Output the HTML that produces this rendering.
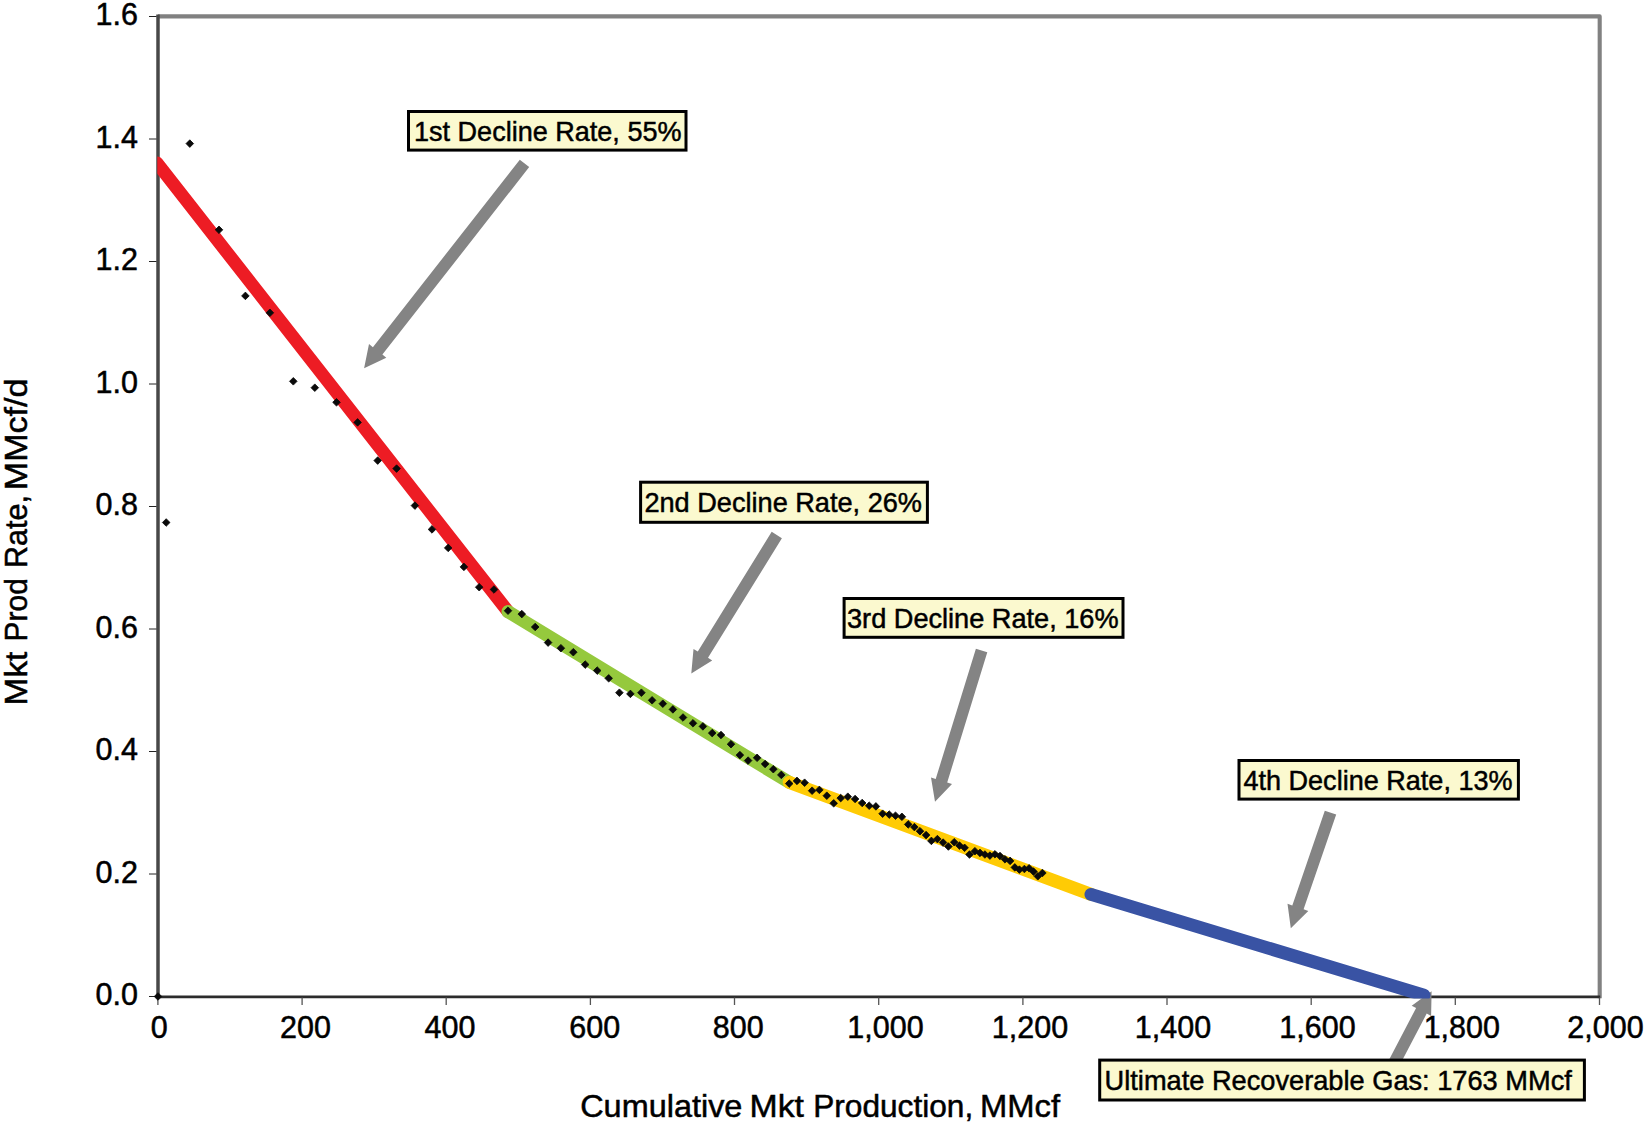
<!DOCTYPE html>
<html><head><meta charset="utf-8"><title>Decline Rate Chart</title>
<style>html,body{margin:0;padding:0;background:#fff}svg{display:block}text{font-family:"Liberation Sans",sans-serif;fill:#000;stroke:#000;stroke-width:0.5px}</style></head><body>
<svg width="1645" height="1125" viewBox="0 0 1645 1125">
<rect width="1645" height="1125" fill="#fff"/>
<defs><clipPath id="plot"><rect x="157.3" y="16" width="1443" height="982.4"/></clipPath></defs>
<path d="M158 16.4 H1599.7 V998.2" fill="none" stroke="#818181" stroke-width="4.1" stroke-linejoin="round"/>
<path d="M158 14.4 V997" fill="none" stroke="#484848" stroke-width="3.5"/>
<path d="M156.3 996.85 H1600.2" fill="none" stroke="#2c2c2c" stroke-width="2.6"/>
<line x1="149" x2="156.5" y1="996.5" y2="996.5" stroke="#222" stroke-width="1"/>
<line x1="149" x2="156.5" y1="874.0" y2="874.0" stroke="#222" stroke-width="1"/>
<line x1="149" x2="156.5" y1="751.5" y2="751.5" stroke="#222" stroke-width="1"/>
<line x1="149" x2="156.5" y1="629.0" y2="629.0" stroke="#222" stroke-width="1"/>
<line x1="149" x2="156.5" y1="506.5" y2="506.5" stroke="#222" stroke-width="1"/>
<line x1="149" x2="156.5" y1="384.0" y2="384.0" stroke="#222" stroke-width="1"/>
<line x1="149" x2="156.5" y1="261.5" y2="261.5" stroke="#222" stroke-width="1"/>
<line x1="149" x2="156.5" y1="139.0" y2="139.0" stroke="#222" stroke-width="1"/>
<line x1="149" x2="156.5" y1="16.5" y2="16.5" stroke="#222" stroke-width="1"/>
<line x1="157.9" x2="157.9" y1="997.5" y2="1005" stroke="#555" stroke-width="1.3"/>
<line x1="302.1" x2="302.1" y1="997.5" y2="1005" stroke="#555" stroke-width="1.3"/>
<line x1="446.2" x2="446.2" y1="997.5" y2="1005" stroke="#555" stroke-width="1.3"/>
<line x1="590.4" x2="590.4" y1="997.5" y2="1005" stroke="#555" stroke-width="1.3"/>
<line x1="734.5" x2="734.5" y1="997.5" y2="1005" stroke="#555" stroke-width="1.3"/>
<line x1="878.7" x2="878.7" y1="997.5" y2="1005" stroke="#555" stroke-width="1.3"/>
<line x1="1022.9" x2="1022.9" y1="997.5" y2="1005" stroke="#555" stroke-width="1.3"/>
<line x1="1167.0" x2="1167.0" y1="997.5" y2="1005" stroke="#555" stroke-width="1.3"/>
<line x1="1311.2" x2="1311.2" y1="997.5" y2="1005" stroke="#555" stroke-width="1.3"/>
<line x1="1455.3" x2="1455.3" y1="997.5" y2="1005" stroke="#555" stroke-width="1.3"/>
<line x1="1599.5" x2="1599.5" y1="997.5" y2="1005" stroke="#555" stroke-width="1.3"/>
<text x="138" y="1005.2" font-size="30.5" text-anchor="end">0.0</text>
<text x="138" y="882.7" font-size="30.5" text-anchor="end">0.2</text>
<text x="138" y="760.2" font-size="30.5" text-anchor="end">0.4</text>
<text x="138" y="637.7" font-size="30.5" text-anchor="end">0.6</text>
<text x="138" y="515.2" font-size="30.5" text-anchor="end">0.8</text>
<text x="138" y="392.7" font-size="30.5" text-anchor="end">1.0</text>
<text x="138" y="270.2" font-size="30.5" text-anchor="end">1.2</text>
<text x="138" y="147.7" font-size="30.5" text-anchor="end">1.4</text>
<text x="138" y="25.2" font-size="30.5" text-anchor="end">1.6</text>
<text x="159.3" y="1038" font-size="30.5" text-anchor="middle">0</text>
<text x="305.5" y="1038" font-size="30.5" text-anchor="middle">200</text>
<text x="450.0" y="1038" font-size="30.5" text-anchor="middle">400</text>
<text x="594.8" y="1038" font-size="30.5" text-anchor="middle">600</text>
<text x="738.2" y="1038" font-size="30.5" text-anchor="middle">800</text>
<text x="885.5" y="1038" font-size="30.5" text-anchor="middle">1,000</text>
<text x="1030.0" y="1038" font-size="30.5" text-anchor="middle">1,200</text>
<text x="1173.0" y="1038" font-size="30.5" text-anchor="middle">1,400</text>
<text x="1317.5" y="1038" font-size="30.5" text-anchor="middle">1,600</text>
<text x="1461.8" y="1038" font-size="30.5" text-anchor="middle">1,800</text>
<text x="1605.5" y="1038" font-size="30.5" text-anchor="middle">2,000</text>
<text y="1117" font-size="31.5"><tspan x="580.2" textLength="162.2" lengthAdjust="spacingAndGlyphs">Cumulative</tspan> <tspan x="749.6" textLength="54.4" lengthAdjust="spacingAndGlyphs">Mkt</tspan> <tspan x="813.2" textLength="160.0" lengthAdjust="spacingAndGlyphs">Production,</tspan> <tspan x="980.0" textLength="80.0" lengthAdjust="spacingAndGlyphs">MMcf</tspan></text>
<text transform="translate(27.3,0) rotate(-90)" y="0" font-size="31.5"><tspan x="-705.4" textLength="53.8" lengthAdjust="spacingAndGlyphs">Mkt</tspan> <tspan x="-641.4" textLength="63.2" lengthAdjust="spacingAndGlyphs">Prod</tspan> <tspan x="-568.0" textLength="73.0" lengthAdjust="spacingAndGlyphs">Rate,</tspan> <tspan x="-490.2" textLength="111.6" lengthAdjust="spacingAndGlyphs">MMcf/d</tspan></text>
<polygon fill="#848484" points="1397.3,1069.8 1426.7,1013.6 1431.1,1015.9 1431.6,991.3 1411.7,1005.7 1416.1,1008.0 1386.7,1064.2"/>
<g clip-path="url(#plot)" fill="none" stroke-linecap="round" stroke-width="13">
<line x1="157.0" y1="163.0" x2="508.0" y2="611.6" stroke="#ED1C24"/>
<line x1="508.0" y1="611.6" x2="789.2" y2="782.3" stroke="#95C93D"/>
<line x1="789.2" y1="782.3" x2="1091.0" y2="894.4" stroke="#FFCB05"/>
<line x1="1091.0" y1="894.4" x2="1424.0" y2="995.2" stroke="#3953A4"/>
</g>
<path d="M158.0 992.7l3.8 3.8l-3.8 3.8l-3.8-3.8zM166.2 518.7l3.8 3.8l-3.8 3.8l-3.8-3.8zM189.8 139.8l3.8 3.8l-3.8 3.8l-3.8-3.8zM219.0 226.0l3.8 3.8l-3.8 3.8l-3.8-3.8zM245.4 292.1l3.8 3.8l-3.8 3.8l-3.8-3.8zM269.9 309.0l3.8 3.8l-3.8 3.8l-3.8-3.8zM293.3 377.5l3.8 3.8l-3.8 3.8l-3.8-3.8zM314.8 383.9l3.8 3.8l-3.8 3.8l-3.8-3.8zM336.5 398.5l3.8 3.8l-3.8 3.8l-3.8-3.8zM357.6 418.6l3.8 3.8l-3.8 3.8l-3.8-3.8zM377.7 456.8l3.8 3.8l-3.8 3.8l-3.8-3.8zM396.6 464.8l3.8 3.8l-3.8 3.8l-3.8-3.8zM414.9 501.8l3.8 3.8l-3.8 3.8l-3.8-3.8zM432.0 525.6l3.8 3.8l-3.8 3.8l-3.8-3.8zM448.2 544.1l3.8 3.8l-3.8 3.8l-3.8-3.8zM463.9 563.1l3.8 3.8l-3.8 3.8l-3.8-3.8zM479.2 583.4l3.8 3.8l-3.8 3.8l-3.8-3.8zM494.0 585.7l3.8 3.8l-3.8 3.8l-3.8-3.8zM508.0 606.9l3.8 3.8l-3.8 3.8l-3.8-3.8zM521.8 610.3l3.8 3.8l-3.8 3.8l-3.8-3.8zM535.2 623.2l3.8 3.8l-3.8 3.8l-3.8-3.8zM548.1 638.8l3.8 3.8l-3.8 3.8l-3.8-3.8zM560.9 644.4l3.8 3.8l-3.8 3.8l-3.8-3.8zM573.3 648.4l3.8 3.8l-3.8 3.8l-3.8-3.8zM585.2 660.8l3.8 3.8l-3.8 3.8l-3.8-3.8zM597.2 666.8l3.8 3.8l-3.8 3.8l-3.8-3.8zM608.7 674.5l3.8 3.8l-3.8 3.8l-3.8-3.8zM619.4 688.9l3.8 3.8l-3.8 3.8l-3.8-3.8zM630.4 690.1l3.8 3.8l-3.8 3.8l-3.8-3.8zM641.4 688.9l3.8 3.8l-3.8 3.8l-3.8-3.8zM652.1 696.5l3.8 3.8l-3.8 3.8l-3.8-3.8zM662.8 699.9l3.8 3.8l-3.8 3.8l-3.8-3.8zM672.9 705.6l3.8 3.8l-3.8 3.8l-3.8-3.8zM683.0 713.7l3.8 3.8l-3.8 3.8l-3.8-3.8zM693.0 719.5l3.8 3.8l-3.8 3.8l-3.8-3.8zM702.9 722.6l3.8 3.8l-3.8 3.8l-3.8-3.8zM712.2 729.3l3.8 3.8l-3.8 3.8l-3.8-3.8zM721.0 731.2l3.8 3.8l-3.8 3.8l-3.8-3.8zM731.0 740.4l3.8 3.8l-3.8 3.8l-3.8-3.8zM739.9 751.3l3.8 3.8l-3.8 3.8l-3.8-3.8zM748.1 756.8l3.8 3.8l-3.8 3.8l-3.8-3.8zM757.1 754.0l3.8 3.8l-3.8 3.8l-3.8-3.8zM765.1 760.2l3.8 3.8l-3.8 3.8l-3.8-3.8zM773.3 765.4l3.8 3.8l-3.8 3.8l-3.8-3.8zM781.3 771.1l3.8 3.8l-3.8 3.8l-3.8-3.8zM789.2 779.8l3.8 3.8l-3.8 3.8l-3.8-3.8zM797.0 777.1l3.8 3.8l-3.8 3.8l-3.8-3.8zM804.6 778.9l3.8 3.8l-3.8 3.8l-3.8-3.8zM812.1 786.9l3.8 3.8l-3.8 3.8l-3.8-3.8zM819.4 786.1l3.8 3.8l-3.8 3.8l-3.8-3.8zM826.8 791.9l3.8 3.8l-3.8 3.8l-3.8-3.8zM833.7 799.5l3.8 3.8l-3.8 3.8l-3.8-3.8zM840.7 794.3l3.8 3.8l-3.8 3.8l-3.8-3.8zM847.8 792.9l3.8 3.8l-3.8 3.8l-3.8-3.8zM855.1 795.2l3.8 3.8l-3.8 3.8l-3.8-3.8zM862.2 799.2l3.8 3.8l-3.8 3.8l-3.8-3.8zM869.2 801.9l3.8 3.8l-3.8 3.8l-3.8-3.8zM875.9 802.6l3.8 3.8l-3.8 3.8l-3.8-3.8zM882.6 809.9l3.8 3.8l-3.8 3.8l-3.8-3.8zM889.2 810.8l3.8 3.8l-3.8 3.8l-3.8-3.8zM895.5 811.9l3.8 3.8l-3.8 3.8l-3.8-3.8zM901.9 813.0l3.8 3.8l-3.8 3.8l-3.8-3.8zM908.2 820.6l3.8 3.8l-3.8 3.8l-3.8-3.8zM914.4 823.3l3.8 3.8l-3.8 3.8l-3.8-3.8zM920.0 827.4l3.8 3.8l-3.8 3.8l-3.8-3.8zM926.1 831.3l3.8 3.8l-3.8 3.8l-3.8-3.8zM931.4 837.1l3.8 3.8l-3.8 3.8l-3.8-3.8zM937.4 835.3l3.8 3.8l-3.8 3.8l-3.8-3.8zM943.1 838.8l3.8 3.8l-3.8 3.8l-3.8-3.8zM948.4 842.7l3.8 3.8l-3.8 3.8l-3.8-3.8zM954.2 838.4l3.8 3.8l-3.8 3.8l-3.8-3.8zM959.5 841.8l3.8 3.8l-3.8 3.8l-3.8-3.8zM964.6 844.0l3.8 3.8l-3.8 3.8l-3.8-3.8zM969.5 850.7l3.8 3.8l-3.8 3.8l-3.8-3.8zM974.9 847.4l3.8 3.8l-3.8 3.8l-3.8-3.8zM980.0 849.1l3.8 3.8l-3.8 3.8l-3.8-3.8zM984.9 850.7l3.8 3.8l-3.8 3.8l-3.8-3.8zM989.9 851.8l3.8 3.8l-3.8 3.8l-3.8-3.8zM995.0 850.5l3.8 3.8l-3.8 3.8l-3.8-3.8zM1000.0 852.2l3.8 3.8l-3.8 3.8l-3.8-3.8zM1005.0 855.5l3.8 3.8l-3.8 3.8l-3.8-3.8zM1010.1 857.1l3.8 3.8l-3.8 3.8l-3.8-3.8zM1014.8 863.6l3.8 3.8l-3.8 3.8l-3.8-3.8zM1019.4 865.8l3.8 3.8l-3.8 3.8l-3.8-3.8zM1024.4 865.2l3.8 3.8l-3.8 3.8l-3.8-3.8zM1029.1 864.5l3.8 3.8l-3.8 3.8l-3.8-3.8zM1033.5 867.8l3.8 3.8l-3.8 3.8l-3.8-3.8zM1037.8 872.5l3.8 3.8l-3.8 3.8l-3.8-3.8zM1042.4 869.2l3.8 3.8l-3.8 3.8l-3.8-3.8z" fill="#0a0a0a" stroke="#0a0a0a" stroke-width="0.8" stroke-linejoin="round"/>
<polygon fill="#848484" points="519.8,159.7 372.9,347.2 369.0,344.1 364.1,368.2 386.3,357.7 382.4,354.6 529.2,167.1"/>
<polygon fill="#848484" points="771.7,531.8 697.8,651.5 693.5,648.9 691.3,673.4 712.2,660.5 708.0,657.8 781.9,538.2"/>
<polygon fill="#848484" points="975.9,648.7 935.7,779.0 931.0,777.5 935.0,801.8 952.0,784.0 947.2,782.5 987.3,652.3"/>
<polygon fill="#848484" points="1324.8,810.7 1292.3,905.4 1287.5,903.8 1290.8,928.2 1308.3,911.0 1303.6,909.3 1336.2,814.5"/>
<rect x="408.50" y="111.50" width="277.50" height="38.60" fill="#FBF9CF" stroke="#000" stroke-width="3.0"/>
<text x="414.0" y="140.5" font-size="28" stroke="none" textLength="267.5" lengthAdjust="spacingAndGlyphs">1st Decline Rate, 55%</text>
<rect x="640.60" y="482.20" width="286.80" height="40.10" fill="#FBF9CF" stroke="#000" stroke-width="3.0"/>
<text x="644.4" y="512.2" font-size="28" stroke="none" textLength="277.6" lengthAdjust="spacingAndGlyphs">2nd Decline Rate, 26%</text>
<rect x="844.10" y="598.50" width="278.90" height="38.80" fill="#FBF9CF" stroke="#000" stroke-width="3.0"/>
<text x="847.0" y="627.7" font-size="28" stroke="none" textLength="271.6" lengthAdjust="spacingAndGlyphs">3rd Decline Rate, 16%</text>
<rect x="1239.00" y="760.50" width="279.40" height="38.60" fill="#FBF9CF" stroke="#000" stroke-width="3.0"/>
<text x="1243.4" y="789.5" font-size="28" stroke="none" textLength="269.2" lengthAdjust="spacingAndGlyphs">4th Decline Rate, 13%</text>
<rect x="1099.70" y="1060.10" width="484.70" height="39.90" fill="#FBF9CF" stroke="#000" stroke-width="3.0"/>
<text x="1104.6" y="1089.8" font-size="28" stroke="none" textLength="467.2" lengthAdjust="spacingAndGlyphs">Ultimate Recoverable Gas: 1763 MMcf</text>
</svg></body></html>
